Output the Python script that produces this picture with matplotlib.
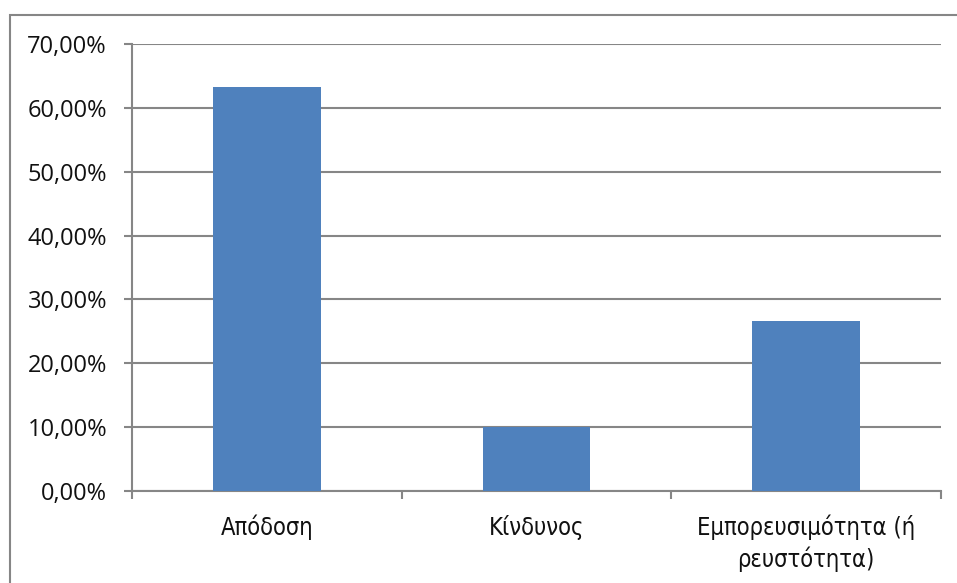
import matplotlib.pyplot as plt
from matplotlib.patches import Rectangle
from matplotlib.ticker import FuncFormatter, MultipleLocator

categories = ['Απόδοση', 'Κίνδυνος', 'Εμπορευσιμότητα (ή\nρευστότητα)']
shares = [63.33, 10.00, 26.67]

bar_color = '#4f81bd'
axis_gray = '#868686'

fig = plt.figure(figsize=(9.57, 5.83), dpi=100)
fig.patch.set_facecolor('white')

# outer chart frame (only top and left edges fall inside the image)
fig.patches.append(Rectangle((10 / 957, -0.1), 1.1, 1.1 - 15 / 583,
                             transform=fig.transFigure, fill=False,
                             edgecolor=axis_gray, linewidth=1.5, zorder=0))

ax = fig.add_axes([132 / 957, 92 / 583, (941 - 132) / 957, (491 - 44) / 583])

x = range(len(categories))
ax.bar(x, shares, width=0.4, color=bar_color, zorder=3)

ax.set_xlim(-0.5, len(categories) - 0.5)
ax.set_ylim(0, 70)
ax.yaxis.set_major_locator(MultipleLocator(10))
ax.yaxis.set_major_formatter(FuncFormatter(lambda v, p: f'{v:.2f}%'.replace('.', ',')))
ax.grid(axis='y', color=axis_gray, linewidth=1.5, zorder=0)

for s in ['top', 'right']:
    ax.spines[s].set_visible(False)
for s in ['left', 'bottom']:
    ax.spines[s].set_color(axis_gray)
    ax.spines[s].set_linewidth(1.5)

# category labels sit between the boundary ticks
ax.set_xticks([-0.5, 0.5, 1.5, 2.5])
ax.set_xticklabels([])
ax.set_xticks(list(x), minor=True)
ax.set_xticklabels(categories, minor=True, fontsize=17,
                   fontfamily='DejaVu Sans', fontstretch='condensed',
                   linespacing=1.3, color='#111111')
ax.tick_params(axis='x', which='major', length=6, width=1.5, color=axis_gray)
ax.tick_params(axis='x', which='minor', length=0, pad=17)
ax.tick_params(axis='y', length=6, width=1.5, color=axis_gray, pad=12)
for lbl in ax.get_yticklabels():
    lbl.set_fontsize(17)
    lbl.set_fontfamily('Open Sans')
    lbl.set_color('#111111')

fig.savefig('out.png', dpi=100)
